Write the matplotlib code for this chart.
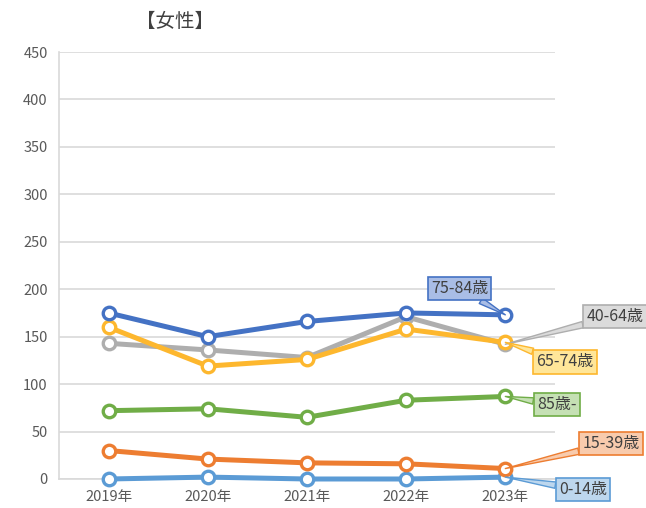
import matplotlib.pyplot as plt

plt.rcParams['font.family'] = ['Noto Sans CJK JP', 'DejaVu Sans']

# データ
years = ["2019年", "2020年", "2021年", "2022年", "2023年"]
groups = ["0-14歳", "15-39歳", "40-64歳", "65-74歳", "75-84歳", "85歳-"]
v_0_14 = [0, 2, 0, 0, 2]
v_15_39 = [30, 21, 17, 16, 11]
v_40_64 = [143, 136, 128, 171, 142]
v_65_74 = [160, 119, 126, 158, 144]
v_75_84 = [175, 150, 166, 175, 173]
v_85 = [72, 74, 65, 83, 87]
values = [v_0_14, v_15_39, v_40_64, v_65_74, v_75_84, v_85]

colors = ["#5B9BD5", "#ED7D31", "#AEAEAE", "#FDB72E", "#4472C4", "#70AD47"]
fills = ["#BDD7EE", "#F8CBAD", "#DBDBDB", "#FFE699", "#A9BDE6", "#C5E0B4"]
# ラベルのずらし (points)
offsets = [(56, -9), (76, 18), (79, 20), (43, -14), (-33, 19), (37, -6)]

fig = plt.figure(figsize=(6.46, 5.08), dpi=100)
ax = fig.add_axes([0.0913, 0.0571, 0.7677, 0.8405])

x = list(range(len(years)))
for vals, c in zip(values, colors):
    ax.plot(x, vals, color=c, lw=3.6, marker='o', markersize=9,
            markerfacecolor='white', markeredgecolor=c, markeredgewidth=2.4,
            solid_joinstyle='round', zorder=3, clip_on=False)

for name, vals, c, f, off in zip(groups, values, colors, fills, offsets):
    ax.annotate(name, xy=(x[-1], vals[-1]), xytext=off, textcoords='offset points',
                ha='center', va='center', fontsize=11.5, color='#404040',
                bbox=dict(boxstyle='square,pad=0.2', fc=f, ec=c, lw=1.2),
                arrowprops=dict(arrowstyle='wedge,tail_width=0.4,shrink_factor=0.5',
                                fc=f, ec=c, lw=1.0, shrinkA=0, shrinkB=0),
                zorder=5)

ax.set_xlim(-0.5, len(years) - 0.5)
ax.set_ylim(0, 450)
ax.set_yticks(range(0, 451, 50))
ax.set_xticks(x)
ax.set_xticklabels(years)
ax.grid(axis='y', color='#D9D9D9', lw=1.2)
ax.set_axisbelow(True)
for s in ['top', 'right']:
    ax.spines[s].set_visible(False)
ax.spines['left'].set_color('#D9D9D9')
ax.spines['bottom'].set_color('#D9D9D9')
ax.spines['left'].set_linewidth(1.2)
ax.spines['bottom'].set_linewidth(1.2)
ax.tick_params(length=0, labelsize=10.5, colors='#595959', pad=8)

fig.text(0.271, 0.957, "【女性】", ha='center', va='center', fontsize=14, color='#404040')

fig.savefig("out.png", dpi=100)
